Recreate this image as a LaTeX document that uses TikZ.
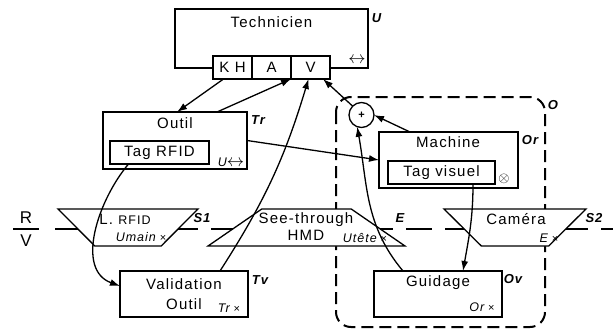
\documentclass[tikz,border=0pt]{standalone}
\usepackage{fontspec}
\setmainfont{Liberation Sans}[LetterSpace=8]
\usetikzlibrary{arrows.meta,shapes.geometric,positioning}

\newcommand{\fois}{{\upshape\fontsize{11}{12}\selectfont\ ×}}
\newcommand{\dbl}{{\upshape\fontsize{16}{16}\selectfont$\leftrightarrow$}}

\tikzset{
  bloc/.style={draw, line width=1.3pt, fill=white, inner sep=0pt, outer sep=0pt},
  cellule/.style={bloc, minimum width=39pt, minimum height=23pt, font=\fontsize{15}{18}\selectfont},
  texte/.style={inner sep=0pt, font=\fontsize{15}{18}\selectfont},
  marque/.style={inner sep=0pt, font=\fontsize{13}{15}\selectfont\bfseries\itshape},
  note/.style={inner sep=0pt, font=\fontsize{12.5}{15}\selectfont\itshape},
  capteur/.style={draw, line width=1.3pt, fill=white, trapezium, trapezium stretches=true,
    minimum height=37pt, inner sep=2pt, outer sep=0pt},
  fleche/.style={line width=1.3pt, -{Latex[length=10pt,width=7pt]}},
}

\begin{document}
\begin{tikzpicture}[x=1pt,y=1pt]
\useasboundingbox (0,0) rectangle (613,-329);
% separation reel / virtuel:
\draw[line width=2pt, dash pattern=on 26pt off 13pt] (55,-229) -- (613,-229);
\node[inner sep=0pt, font=\fontsize{17}{20}\selectfont] (rlab) at (26,-218) {R};
\node[inner sep=0pt, font=\fontsize{17}{20}\selectfont] (vlab) at (26,-241) {V};
\draw[line width=2pt] (13,-229) -- (39,-229);
% objet O:
\draw[line width=2pt, dash pattern=on 12pt off 6pt, rounded corners=15pt] (336,-97) rectangle (545,-327);
\node[marque] (olab) at (553,-105) {O};

% technicien:
\node[bloc, minimum width=193pt, minimum height=59pt, anchor=north west] (tech) at (175,-9) {};
\node[texte] (techtxt) at (271.5,-22) {Technicien};
\node[cellule, anchor=north west] (kh) at (213,-56) {K H};
\node[cellule, right=0pt of kh] (a) {A};
\node[cellule, right=0pt of a] (v) {V};
\node[inner sep=0pt] (techsym) at (357,-60) {\dbl};
\node[marque] (ulab) at (376.5,-18) {U};

% outil:
\node[bloc, minimum width=144pt, minimum height=57pt] (outil) at (175,-140.5) {};
\node[texte] (outiltxt) at (175,-123) {Outil};
\node[bloc, minimum width=99pt, minimum height=23pt, font=\fontsize{15}{18}\selectfont] (rfid) at (159.5,-152.5) {Tag RFID};
\node[note] (outilsym) at (231,-162) {U\dbl};
\node[marque] (trlab) at (258,-120) {Tr};

% machine:
\node[bloc, minimum width=139pt, minimum height=56pt] (mach) at (448.5,-160) {};
\node[texte] (machtxt) at (448,-142.5) {Machine};
\node[bloc, minimum width=107pt, minimum height=23pt, font=\fontsize{15}{18}\selectfont] (tagv) at (441.5,-172.5) {Tag visuel};
\node[inner sep=0pt, font=\fontsize{14}{16}\selectfont] (machsym) at (504,-179) {$\otimes$};
\node[marque] (orlab) at (530,-140) {Or};
\node[bloc, circle, minimum size=25pt, font=\fontsize{11}{13}\selectfont\bfseries] (plus) at (361.5,-115) {+};

% capteurs:
\node[capteur, shape border rotate=180, minimum width=140pt, trapezium left angle=61, trapezium right angle=61] (lrfid) at (128,-227.5) {};
\node[texte] (lrfidtxt) at (125,-219) {L. {\fontsize{12.5}{15}\selectfont RFID}};
\node[note] (lrfidsub) at (141,-237) {Umain\fois};
\node[marque] (s1lab) at (202,-218) {S1};
\node[capteur, minimum width=197pt, trapezium left angle=59, trapezium right angle=59] (hmd) at (306.5,-227.5) {};
\node[texte, align=center, font=\fontsize{15}{17}\selectfont] (hmdtxt) at (306,-227) {See-through\\HMD};
\node[note] (hmdsub) at (365,-238) {Utête\fois};
\node[marque] (elab) at (400,-218) {E};
\node[capteur, shape border rotate=180, minimum width=142pt, trapezium left angle=61, trapezium right angle=61] (cam) at (515,-227.5) {};
\node[texte] (camtxt) at (516,-219) {Caméra};
\node[note] (camsub) at (549,-238) {E\fois};
\node[marque] (s2lab) at (594,-218) {S2};

% validation et guidage:
\node[bloc, minimum width=128pt, minimum height=46pt, align=center, font=\fontsize{15}{20}\selectfont] (valid) at (184,-294) {Validation\\Outil};
\node[note] (validsub) at (229,-308) {Tr\fois};
\node[marque] (tvlab) at (260,-280) {Tv};
\node[bloc, minimum width=128pt, minimum height=46pt] (guid) at (438,-294) {};
\node[texte] (guidtxt) at (438,-283) {Guidage};
\node[note] (guidsub) at (482,-307) {Or\fois};
\node[marque] (ovlab) at (513,-279) {Ov};

% fleches:
\draw[fleche] ([xshift=-9pt]kh.south) -- ([xshift=2pt]outil.north);
\draw[fleche] ([xshift=42pt]outil.north) -- (a.south east);
\draw[fleche] ([xshift=36pt]valid.north) to[bend right=8] ([xshift=-2pt]v.south);
\draw[fleche] (plus.north west) -- ([xshift=-7pt]v.south east);
\draw[fleche] ([xshift=31pt]mach.north west) -- (plus.east);
\draw[fleche] (outil.east) -- (mach.west);
\draw[fleche] ([xshift=-31pt]rfid.south) to[out=230,in=160] ([yshift=8pt]valid.west);
\draw[fleche] ([xshift=-35pt]guid.north) to[out=130,in=-80] (plus.250);
\draw[fleche] ([xshift=31.5pt]tagv.south) to[out=-90,in=80] ([xshift=25pt]guid.north);
\end{tikzpicture}
\end{document}
